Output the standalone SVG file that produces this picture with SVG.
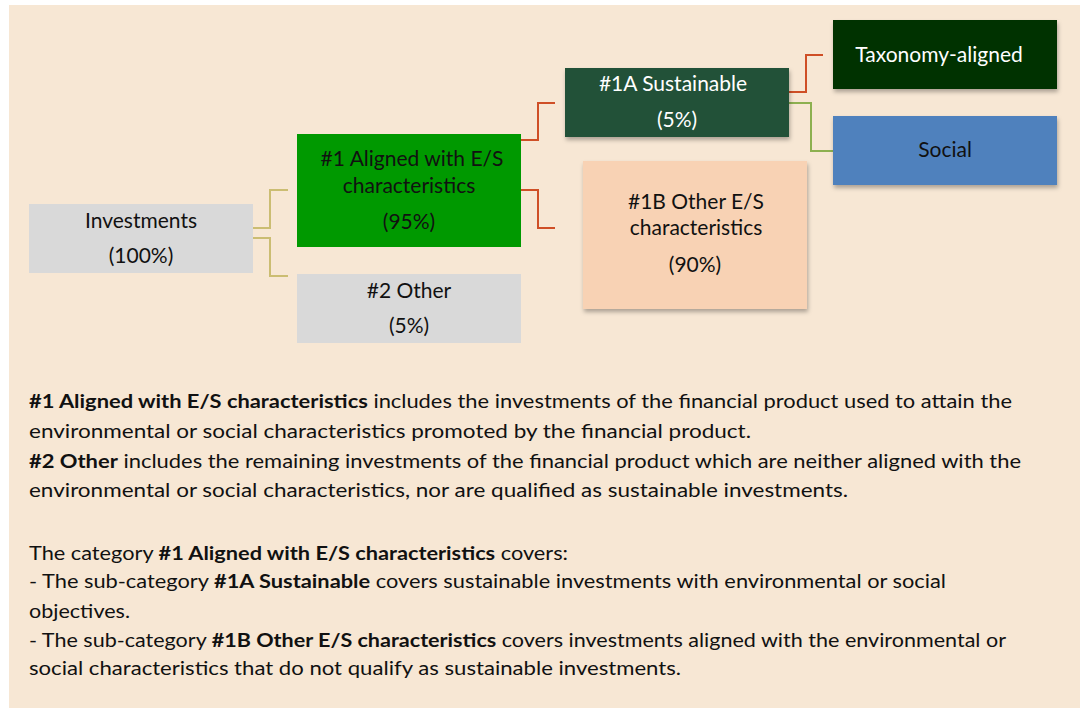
<svg xmlns="http://www.w3.org/2000/svg" width="1080" height="709" viewBox="0 0 1080 709">
<defs>
<filter id="sh" x="-10%" y="-10%" width="130%" height="140%">
<feDropShadow dx="1" dy="3" stdDeviation="2" flood-color="#000" flood-opacity="0.3"/>
</filter>
<style>
.lbl{font-family:Lato,"Liberation Sans",sans-serif;font-size:21px;fill:#111;text-anchor:middle}
.wht{fill:#fff}
.body{font-family:Lato,"Liberation Sans",sans-serif;font-size:19.5px;fill:#111}
.b{font-weight:bold}
.c{fill:none;stroke-width:2}
.y{stroke:#cbbd72}
.r{stroke:#cf4f26}
.g{stroke:#8db050}
</style>
</defs>
<rect x="0" y="0" width="1080" height="709" fill="#ffffff"/>
<rect x="9" y="5" width="1071" height="703" fill="#f7e7d4"/>
<g id="connectors">
<polyline class="c y" points="253,228 270,228 270,190 288,190"/>
<polyline class="c y" points="253,238 270,238 270,276 288,276"/>
<polyline class="c r" points="521,140 538,140 538,103 555,103"/>
<polyline class="c r" points="521,190 538,190 538,228 555,228"/>
<polyline class="c r" points="789,92 806,92 806,55 823,55"/>
<polyline class="c g" points="789,103 811,103 811,151 833,151"/>
</g>
<g id="investments">
<rect x="29" y="204" width="224" height="69" fill="#d9d9d9"/>
<text class="lbl" x="141" y="228">Investments</text>
<text class="lbl" x="141" y="263">(100%)</text>
</g>
<g id="aligned">
<rect x="297" y="134" width="224" height="113" fill="#009900"/>
<text class="lbl" x="412" y="166">#1 Aligned with E/S</text>
<text class="lbl" x="409" y="193">characteristics</text>
<text class="lbl" x="409" y="229">(95%)</text>
</g>
<g id="other">
<rect x="297" y="274" width="224" height="69" fill="#d9d9d9"/>
<text class="lbl" x="409" y="298">#2 Other</text>
<text class="lbl" x="409" y="333">(5%)</text>
</g>
<g id="sustainable">
<rect x="565" y="68" width="224" height="69" fill="#235137" filter="url(#sh)"/>
<text class="lbl wht" x="673" y="91">#1A Sustainable</text>
<text class="lbl wht" x="677" y="127">(5%)</text>
</g>
<g id="other-es">
<rect x="583" y="161" width="224" height="148" fill="#f8d2b4" filter="url(#sh)"/>
<text class="lbl" x="696" y="209">#1B Other E/S</text>
<text class="lbl" x="696" y="235">characteristics</text>
<text class="lbl" x="695" y="272">(90%)</text>
</g>
<g id="taxonomy">
<rect x="833" y="20" width="224" height="69" fill="#013300" filter="url(#sh)"/>
<text class="lbl wht" x="939" y="62">Taxonomy-aligned</text>
</g>
<g id="social">
<rect x="833" y="116" width="224" height="69" fill="#4f81bd" filter="url(#sh)"/>
<text class="lbl" x="945" y="157">Social</text>
</g>
<g id="notes">
<text class="body" x="29" y="408" textLength="983" lengthAdjust="spacingAndGlyphs"><tspan class="b">#1 Aligned with E/S characteristics</tspan> includes the investments of the financial product used to attain the</text>
<text class="body" x="29" y="438" textLength="722" lengthAdjust="spacingAndGlyphs">environmental or social characteristics promoted by the financial product.</text>
<text class="body" x="29" y="468" textLength="992" lengthAdjust="spacingAndGlyphs"><tspan class="b">#2 Other</tspan> includes the remaining investments of the financial product which are neither aligned with the</text>
<text class="body" x="29" y="497" textLength="819" lengthAdjust="spacingAndGlyphs">environmental or social characteristics, nor are qualified as sustainable investments.</text>
<text class="body" x="29" y="560" textLength="539" lengthAdjust="spacingAndGlyphs">The category <tspan class="b">#1 Aligned with E/S characteristics</tspan> covers:</text>
<text class="body" x="29" y="588" textLength="917" lengthAdjust="spacingAndGlyphs">- The sub-category <tspan class="b">#1A Sustainable</tspan> covers sustainable investments with environmental or social</text>
<text class="body" x="29" y="618" textLength="101" lengthAdjust="spacingAndGlyphs">objectives.</text>
<text class="body" x="29" y="647" textLength="977" lengthAdjust="spacingAndGlyphs">- The sub-category <tspan class="b">#1B Other E/S characteristics</tspan> covers investments aligned with the environmental or</text>
<text class="body" x="29" y="675" textLength="652" lengthAdjust="spacingAndGlyphs">social characteristics that do not qualify as sustainable investments.</text>
</g>
</svg>
